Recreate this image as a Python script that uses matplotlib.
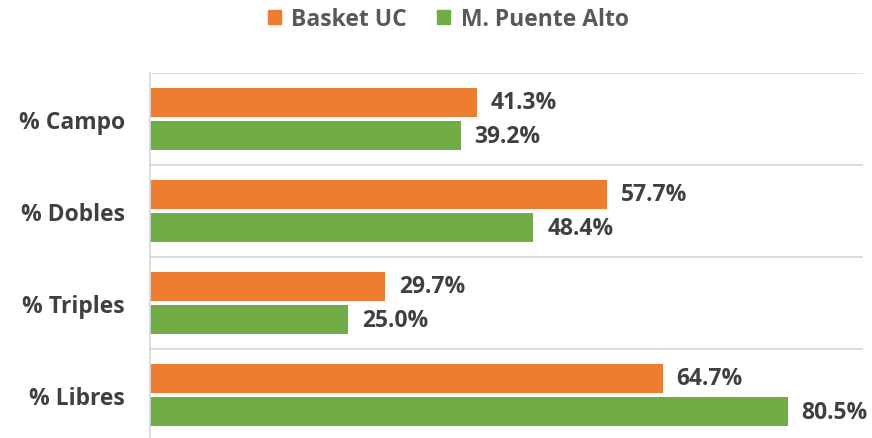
import numpy as np
import matplotlib.pyplot as plt
from matplotlib.patches import Patch

categories = ["% Campo", "% Dobles", "% Triples", "% Libres"]
series_names = ["Basket UC", "M. Puente Alto"]
basket_uc = [41.3, 57.7, 29.7, 64.7]
puente_alto = [39.2, 48.4, 25.0, 80.5]

orange = "#ED7D31"
green = "#70AD47"
grid_col = "#D9D9D9"

plt.rcParams["font.family"] = ["Open Sans", "DejaVu Sans"]
plt.rcParams["font.weight"] = "bold"

fig = plt.figure(figsize=(8.72, 4.39), dpi=100)
W, H = 872, 439
ax_left, ax_right, ax_top, ax_bot = 150, 863, 74, 442
ax = fig.add_axes([ax_left / W, (H - ax_bot) / H, (ax_right - ax_left) / W, (ax_bot - ax_top) / H])

y = np.arange(len(categories))
h = 0.31
off = 0.18
ax.barh(y - off, basket_uc, height=h, color=orange)
ax.barh(y + off, puente_alto, height=h, color=green)

fs = 16.5
for i in range(len(categories)):
    ax.annotate(f"{basket_uc[i]:.1f}%", (basket_uc[i], y[i] - off), xytext=(10, 0),
                textcoords="offset points", va="center", ha="left",
                fontsize=fs, fontweight="bold", color="#404040")
    ax.annotate(f"{puente_alto[i]:.1f}%", (puente_alto[i], y[i] + off), xytext=(10, 0),
                textcoords="offset points", va="center", ha="left",
                fontsize=fs, fontweight="bold", color="#404040")

ax.set_xlim(0, 90)
ax.set_ylim(len(categories) - 0.5, -0.5)
for b in np.arange(-0.5, len(categories), 1.0):
    ax.axhline(b, color=grid_col, lw=1.3, zorder=0)

ax.set_xticks([])
ax.set_yticks(y)
ax.set_yticklabels(categories, fontsize=fs, fontweight="bold", color="#404040")
ax.tick_params(axis="y", length=0, pad=18)
for s in ["top", "right", "bottom"]:
    ax.spines[s].set_visible(False)
ax.spines["left"].set_color(grid_col)
ax.spines["left"].set_linewidth(1.3)

handles = [Patch(color=orange), Patch(color=green)]
leg = fig.legend(handles, series_names, loc="center", bbox_to_anchor=(0.514, 1 - 20 / H),
                 ncol=2, frameon=False, fontsize=fs, handlelength=0.58, handleheight=0.58,
                 handletextpad=0.45, columnspacing=1.3)
for t in leg.get_texts():
    t.set_color("#595959")
    t.set_fontweight("bold")

fig.savefig("out.png", dpi=100)
